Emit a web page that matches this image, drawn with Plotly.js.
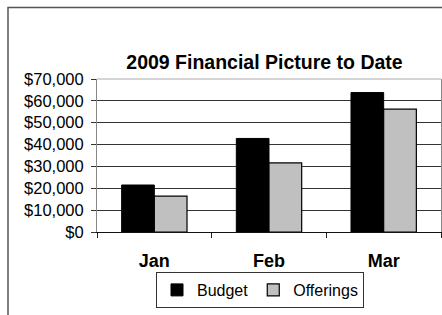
<!DOCTYPE html>
<html>
<head>
<meta charset="utf-8">
<script src="https://cdn.plot.ly/plotly-3.0.1.min.js"></script>
<style>html,body{margin:0;padding:0;background:#fff;}#chart{width:442px;height:315px;}</style>
</head>
<body>
<div id="chart"></div>
<script>
const months = ["Jan", "Feb", "Mar"];
const budget = [21500, 42800, 63800];
const offerings = [16400, 31600, 56200];
const yTicks = [0, 10000, 20000, 30000, 40000, 50000, 60000, 70000];
const titleText = "2009 Financial Picture to Date";
const seriesNames = ["Budget", "Offerings"];

const FONT = "Liberation Sans, Arial, sans-serif";

const traces = [
  {type: "bar", name: seriesNames[0], x: months, y: budget,
   marker: {color: "#000000", line: {color: "#000000", width: 1}}, hoverinfo: "skip"},
  {type: "bar", name: seriesNames[1], x: months, y: offerings,
   marker: {color: "#c0c0c0", line: {color: "#000000", width: 1.2}}, hoverinfo: "skip"}
];

// plot area: x 97..441, y 79..232
const L = 97, R = 441, T = 79, B = 232, W = 442, H = 315;
const pw = R - L, ph = B - T;
const px = v => (v - L) / pw;
const py = v => (B - v) / ph;

const layout = {
  width: W, height: H,
  margin: {l: L, r: W - R, t: T, b: H - B, pad: 0},
  paper_bgcolor: "#ffffff", plot_bgcolor: "#ffffff",
  font: {family: FONT, color: "#000000"},
  showlegend: true,
  barmode: "group", bargap: 0.43, bargroupgap: 0,
  title: {text: titleText, font: {family: FONT, size: 19.5, weight: "bold", color: "#000"},
          xref: "paper", x: px(264.5), xanchor: "center",
          yref: "container", y: 1 - 62 / H, yanchor: "middle"},
  xaxis: {type: "category", showgrid: false, showline: true, linecolor: "#111", linewidth: 1,
          ticks: "outside", tickson: "boundaries", ticklen: 5, tickcolor: "#222", tickwidth: 1,
          ticklabelstandoff: 12,
          tickfont: {family: FONT, size: 18, weight: "bold", color: "#000"}, zeroline: false},
  yaxis: {range: [0, 70000], tickvals: yTicks, tickformat: "$,.0f",
          showgrid: true, gridcolor: "#333", gridwidth: 1,
          showline: true, linecolor: "#888", linewidth: 1, mirror: true,
          ticks: "outside", ticklen: 5, tickcolor: "#333", tickwidth: 1,
          ticklabelstandoff: 4,
          tickfont: {family: FONT, size: 16.5, color: "#000"}, zeroline: false},
  legend: {orientation: "h", xref: "paper", x: px(260), xanchor: "center",
           yref: "paper", y: py(272), yanchor: "top",
           bordercolor: "#333", borderwidth: 1, bgcolor: "#fff",
           font: {family: FONT, size: 16, color: "#000"},
           itemwidth: 30, tracegroupgap: 0},
  shapes: [
    {type: "line", xref: "paper", yref: "paper", x0: 0, x1: 1, y0: 1, y1: 1,
     line: {color: "#aaa", width: 1}, layer: "above"},
    {type: "path", xref: "paper", yref: "paper",
     path: "M " + px(8) + "," + py(320) + " L " + px(8) + "," + py(7.5) + " L " + px(445) + "," + py(7.5),
     line: {color: "#555", width: 1.5}, layer: "above"}
  ]
};

Plotly.newPlot("chart", traces, layout, {staticPlot: true, displayModeBar: false});
</script>
</body>
</html>
